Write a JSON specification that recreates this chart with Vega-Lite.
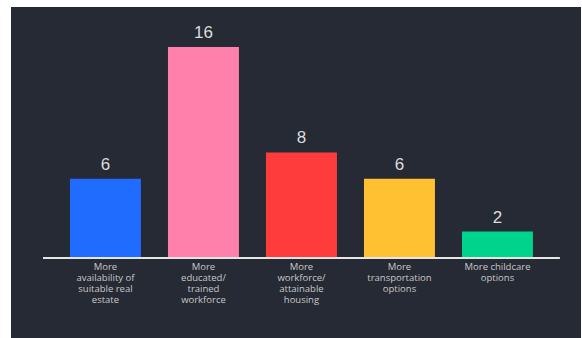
{
  "$schema": "https://vega.github.io/schema/vega-lite/v6.json",
  "width": 570,
  "height": 331,
  "autosize": "none",
  "padding": {"left": 11, "top": 7, "right": 1, "bottom": 0},
  "background": "#ffffff",
  "view": {"fill": "#262a34", "stroke": null},
  "config": {"font": "Open Sans"},
  "data": {
    "values": [
      {"category": "availability", "label": "More\navailability of\nsuitable real\nestate", "value": 6},
      {"category": "workforce", "label": "More\neducated/\ntrained\nworkforce", "value": 16},
      {"category": "housing", "label": "More\nworkforce/\nattainable\nhousing", "value": 8},
      {"category": "transportation", "label": "More\ntransportation\noptions", "value": 6},
      {"category": "childcare", "label": "More childcare\noptions", "value": 2}
    ]
  },
  "encoding": {
    "x": {
      "field": "category",
      "type": "nominal",
      "sort": null,
      "axis": null,
      "scale": {"paddingInner": 0.276, "paddingOuter": 0.546, "align": 0.551}
    }
  },
  "layer": [
    {
      "mark": {"type": "bar"},
      "encoding": {
        "y": {"field": "value", "type": "quantitative", "axis": null, "scale": {"domain": [-6.07, 19.03], "nice": false, "zero": false}},
        "color": {
          "field": "category",
          "type": "nominal",
          "legend": null,
          "scale": {
            "domain": ["availability", "workforce", "housing", "transportation", "childcare"],
            "range": ["#1f6cff", "#ff80ab", "#ff3c3c", "#ffc032", "#00d38c"]
          }
        }
      }
    },
    {
      "mark": {"type": "text", "baseline": "bottom", "dy": -5, "fontSize": 17, "font": "Liberation Sans", "color": "#dcdcdc"},
      "encoding": {
        "y": {"field": "value", "type": "quantitative"},
        "text": {"field": "value", "type": "quantitative"}
      }
    },
    {
      "mark": {"type": "text", "baseline": "top", "dy": 4, "fontSize": 9.5, "lineHeight": 11, "lineBreak": "\n", "color": "#c8c8c8"},
      "encoding": {
        "y": {"datum": 0, "type": "quantitative"},
        "text": {"field": "label"}
      }
    },
    {
      "data": {"values": [{"start": "availability", "end": "childcare"}]},
      "mark": {"type": "rule", "color": "#e6e6e6", "strokeWidth": 2},
      "encoding": {
        "x": {"field": "start", "type": "nominal", "bandPosition": -0.38},
        "x2": {"field": "end", "bandPosition": 1.38},
        "y": {"datum": 0, "type": "quantitative"}
      }
    }
  ]
}
